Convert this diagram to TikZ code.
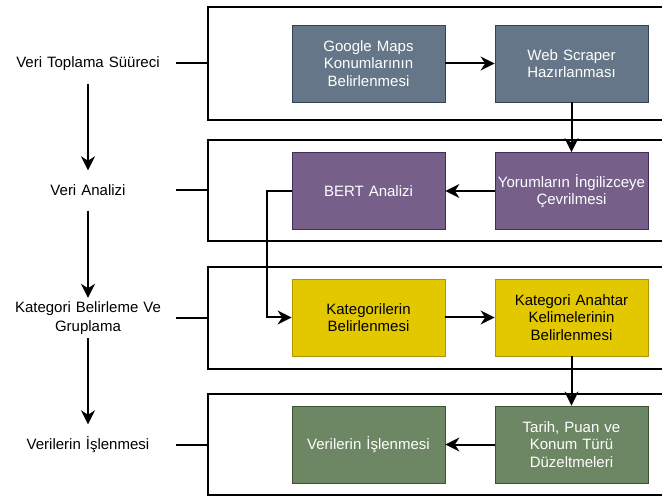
\documentclass[tikz,border=0pt]{standalone}
\usepackage{fontspec}
\setmainfont{Liberation Sans}
\usetikzlibrary{arrows.meta}
\definecolor{slateF}{HTML}{647687}\definecolor{slateD}{HTML}{314354}
\definecolor{purpF}{HTML}{76608A}\definecolor{purpD}{HTML}{432D57}
\definecolor{yelF}{HTML}{E3C800}\definecolor{yelD}{HTML}{B09500}
\definecolor{grnF}{HTML}{6D8764}\definecolor{grnD}{HTML}{3A5431}
\tikzset{
  lane/.style={draw=black, line width=2pt, inner sep=0pt, minimum width=492pt},
  box/.style={rectangle, line width=0.8pt, inner sep=0pt, minimum width=153pt, minimum height=77pt,
    text width=153pt, align=center, font=\fontsize{15}{17.5}\selectfont},
  slatebox/.style={box, fill=slateF, draw=slateD, text=white},
  purpbox/.style={box, fill=purpF, draw=purpD, text=white},
  yelbox/.style={box, fill=yelF, draw=yelD, text=black},
  grnbox/.style={box, fill=grnF, draw=grnD, text=white},
  lab/.style={inner sep=0pt, text width=176pt, align=center, minimum height=40pt, font=\fontsize{15}{19}\selectfont},
  conn/.style={line width=2pt, -{Stealth[length=14pt,width=14pt,inset=4.5pt]}},
  plain/.style={line width=2pt}
}
\begin{document}
\begin{tikzpicture}[x=1pt,y=-1pt]
\useasboundingbox (0,0) rectangle (662,497);
\clip (0,0) rectangle (662,497);
% lanes
\node[lane, minimum height=113pt] (lane1) at (454,63.5) {};
\node[lane, minimum height=101pt] (lane2) at (454,190.5) {};
\node[lane, minimum height=102pt] (lane3) at (454,318) {};
\node[lane, minimum height=101pt] (lane4) at (454,444.5) {};
% labels
\node[lab] (lab1) at (88,63.5) {Veri Toplama Süüreci};
\node[lab] (lab2) at (88,190.5) {Veri Analizi};
\node[lab] (lab3) at (88,318) {Kategori Belirleme Ve\\Gruplama};
\node[lab] (lab4) at (88,444.5) {Verilerin İşlenmesi};
\draw[plain] (lab1.east) -- (lane1.west);
\draw[plain] (lab2.east) -- (lane2.west);
\draw[plain] (lab3.east) -- (lane3.west);
\draw[plain] (lab4.east) -- (lane4.west);
\draw[conn] (lab1.south) -- (lab2.north);
\draw[conn] (lab2.south) -- (lab3.north);
\draw[conn] (lab3.south) -- (lab4.north);
% boxes
\node[slatebox] (g1) at (368.5,63.5) {Google Maps\\Konumlarının\\Belirlenmesi};
\node[slatebox] (g2) at (571.5,63.5) {Web Scraper\\Hazırlanması};
\node[purpbox] (p1) at (368.5,191) {BERT Analizi};
\node[purpbox] (p2) at (571.5,191) {Yorumların İngilizceye\\Çevrilmesi};
\node[yelbox] (k1) at (368.5,317.5) {Kategorilerin\\Belirlenmesi};
\node[yelbox] (k2) at (571.5,317.5) {Kategori Anahtar\\Kelimelerinin\\Belirlenmesi};
\node[grnbox] (t1) at (368.5,444.5) {Verilerin İşlenmesi};
\node[grnbox] (t2) at (571.5,444.5) {Tarih, Puan ve\\Konum Türü\\Düzeltmeleri};
% connectors
\draw[conn] (g1.east) -- (g2.west);
\draw[conn] (g2.south) -- (p2.north);
\draw[conn] (p2.west) -- (p1.east);
\draw[conn] (p1.west) -- ++(-25,0) |- (k1.west);
\draw[conn] (k1.east) -- (k2.west);
\draw[conn] (k2.south) -- (t2.north);
\draw[conn] (t2.west) -- (t1.east);
\end{tikzpicture}
\end{document}
